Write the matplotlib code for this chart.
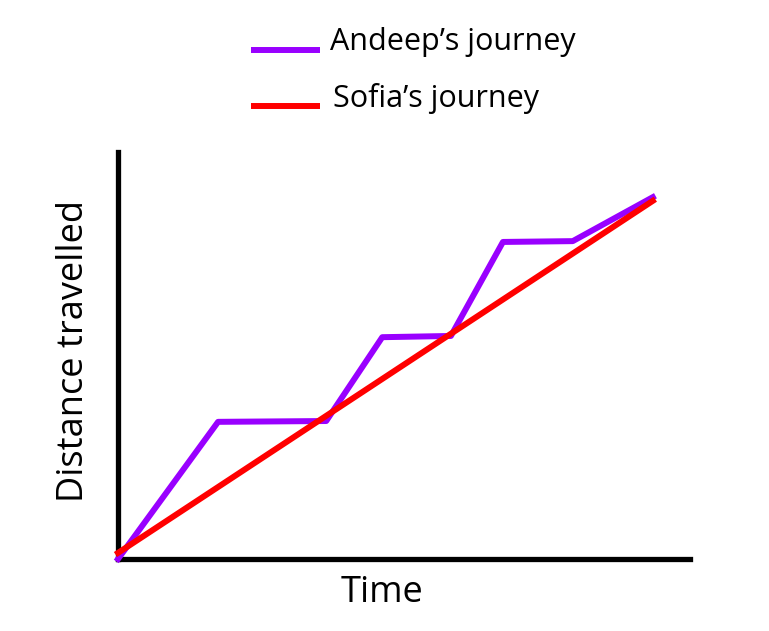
import matplotlib
matplotlib.use('Agg')
import matplotlib.pyplot as plt
from matplotlib.lines import Line2D

plt.rcParams['font.family'] = ['Open Sans', 'DejaVu Sans']

# Andeep's journey: time vs distance (arbitrary units)
andeep_time = [0, 1.75, 3.64, 4.62, 5.82, 6.73, 7.95, 9.35]
andeep_dist = [0, 3.37, 3.39, 5.45, 5.48, 7.79, 7.81, 8.89]
# Sofia's journey: steady speed
sofia_time = [0, 9.35]
sofia_dist = [0.15, 8.80]

purple = '#9900ff'
red = '#ff0000'

W, H = 769, 631
fig = plt.figure(figsize=(W / 100, H / 100), dpi=100)
ax = fig.add_axes([118 / W, 1 - 559 / H, (690 - 118) / W, (559 - 152) / H])

ax.plot(andeep_time, andeep_dist, color=purple, lw=4.3, clip_on=False, zorder=3)
ax.plot(sofia_time, sofia_dist, color=red, lw=4.3, clip_on=False, zorder=4)

ax.set_xlim(0, 10)
ax.set_ylim(0, 10)
for s in ['top', 'right']:
    ax.spines[s].set_visible(False)
for s in ['left', 'bottom']:
    ax.spines[s].set_linewidth(3.8)
    ax.spines[s].set_color('black')
ax.set_xticks([])
ax.set_yticks([])

# axis labels
fig.text(382 / W, 1 - 602 / H, 'Time', fontsize=26, ha='center', va='baseline')
fig.text(74 / W, 1 - 351 / H, 'Distance travelled', fontsize=26,
         rotation=90, ha='center', va='center')

# hand-made legend at the top
fig.add_artist(Line2D([251 / W, 320 / W], [1 - 50 / H, 1 - 50 / H], color=purple,
                      lw=4.3, solid_capstyle='butt', transform=fig.transFigure))
fig.add_artist(Line2D([251 / W, 320 / W], [1 - 106 / H, 1 - 106 / H], color=red,
                      lw=4.3, solid_capstyle='butt', transform=fig.transFigure))
fig.text(330 / W, 1 - 50 / H, 'Andeep\u2019s journey', fontsize=22, va='baseline')
fig.text(333 / W, 1 - 107 / H, 'Sofia\u2019s journey', fontsize=22, va='baseline')

fig.savefig('out.png', dpi=100)
